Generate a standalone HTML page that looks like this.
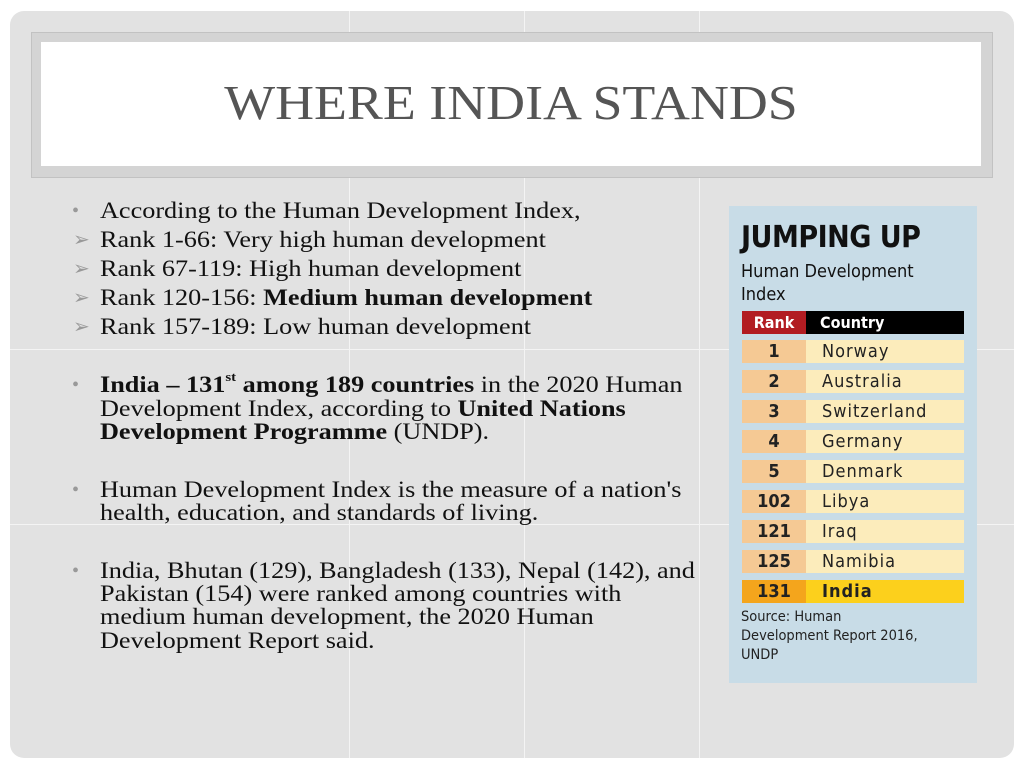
<!DOCTYPE html>
<html><head><meta charset="utf-8"><style>
body{margin:0;width:1024px;height:768px;background:#fff;position:relative;overflow:hidden;font-family:"Liberation Serif",serif;}
.panel{position:absolute;left:10px;top:11px;width:1004px;height:747px;background:#e2e2e2;border-radius:14px;overflow:hidden}
.gv{position:absolute;top:0;width:1px;height:100%;background:#f4f4f4}
.gh{position:absolute;left:0;height:1px;width:100%;background:#f4f4f4}
.tbox{position:absolute;left:31px;top:32px;width:960px;height:144px;background:#d4d4d4;border:1px solid #c2c2c2}
.tin{position:absolute;left:41px;top:42px;width:940px;height:124px;background:#fff}
h1{position:absolute;left:41px;top:74px;width:940px;margin:0;text-align:center;font-weight:normal;font-size:49px;color:#555;transform:scaleX(1.1);transform-origin:center}
.ln{position:absolute;left:100px;font-size:23px;color:#111;white-space:nowrap;line-height:24px;transform:scaleX(1.14);transform-origin:left}
.b{position:absolute;left:72px;color:#999;font-size:20px;line-height:24px}
.a{position:absolute;left:73px;color:#999;font-size:20px;line-height:24px}
sup{font-size:13px;line-height:0;position:relative;top:-2px}
.card{position:absolute;left:729px;top:206px;width:248px;height:477px;background:#c8dce7;font-family:"DejaVu Sans Condensed","DejaVu Sans",sans-serif}
.row{position:absolute;left:13px;width:222px;height:23px}
.rk{position:absolute;left:0;width:64px;height:100%;background:#f5c994;text-align:center;font-weight:bold;font-size:18px;line-height:23px;color:#222}
.ct{position:absolute;left:64px;width:158px;height:100%;background:#fcecbb;font-size:18px;line-height:23px;color:#222;padding-left:16px;box-sizing:border-box;letter-spacing:1px}
</style></head><body>
<div class="panel">
<div class="gv" style="left:339px"></div><div class="gv" style="left:514px"></div><div class="gv" style="left:689px"></div>
<div class="gh" style="top:338px"></div><div class="gh" style="top:513px"></div>
</div>
<div class="tbox"></div>
<div class="tin"></div>
<h1>WHERE INDIA STANDS</h1>

<div>
<span class="b" style="top:199px">•</span><div class="ln" style="top:199px">According to the Human Development Index,</div>
<span class="a" style="top:228px">➢</span><div class="ln" style="top:228px">Rank 1-66: Very high human development</div>
<span class="a" style="top:257px">➢</span><div class="ln" style="top:257px">Rank 67-119: High human development</div>
<span class="a" style="top:286px">➢</span><div class="ln" style="top:286px">Rank 120-156: <b>Medium human development</b></div>
<span class="a" style="top:315px">➢</span><div class="ln" style="top:315px">Rank 157-189: Low human development</div>
<span class="b" style="top:373px">•</span><div class="ln" style="top:373px"><b>India – 131<sup>st</sup> among 189 countries</b> in the 2020 Human</div>
<div class="ln" style="top:397px">Development Index, according to <b>United Nations</b></div>
<div class="ln" style="top:420px"><b>Development Programme</b> (UNDP).</div>
<span class="b" style="top:478px">•</span><div class="ln" style="top:478px">Human Development Index is the measure of a nation's</div>
<div class="ln" style="top:501px">health, education, and standards of living.</div>
<span class="b" style="top:559px">•</span><div class="ln" style="top:559px">India, Bhutan (129), Bangladesh (133), Nepal (142), and</div>
<div class="ln" style="top:582px">Pakistan (154) were ranked among countries with</div>
<div class="ln" style="top:605px">medium human development, the 2020 Human</div>
<div class="ln" style="top:629px">Development Report said.</div>
</div>

<div class="card">
<div style="position:absolute;left:12px;top:14px;font-size:30px;font-weight:bold;color:#111;letter-spacing:-0.5px">JUMPING UP</div>
<div style="position:absolute;left:12px;top:54px;font-size:18px;line-height:23px;color:#111">Human Development<br>Index</div>
<div class="row" style="top:105px">
<div class="rk" style="background:#b21c22;color:#fff;font-size:16px">Rank</div>
<div class="ct" style="background:#000;color:#fff;font-weight:bold;font-size:16px;letter-spacing:0;padding-left:14px">Country</div></div>
<div id="rows"></div>
<div style="position:absolute;left:12px;top:402px;font-size:14.5px;line-height:19px;color:#222">Source: Human<br>Development Report 2016,<br>UNDP</div>
</div>
<script>
const ranks=["1","2","3","4","5","102","121","125","131"];
const countries=["Norway","Australia","Switzerland","Germany","Denmark","Libya","Iraq","Namibia","India"];
const rows=document.getElementById('rows');
ranks.forEach((r,i)=>{
 const d=document.createElement('div');
 d.className='row';d.style.top=(134+i*30)+'px';
 
 
 const hi=countries[i]==='India';
 d.innerHTML='<div class="rk"'+(hi?' style="background:#f4a51c"':'')+'>'+r+'</div><div class="ct"'+(hi?' style="background:#fcd01c;font-weight:bold"':'')+'>'+countries[i]+'</div>';
 rows.appendChild(d);
});
</script>
</body></html>
